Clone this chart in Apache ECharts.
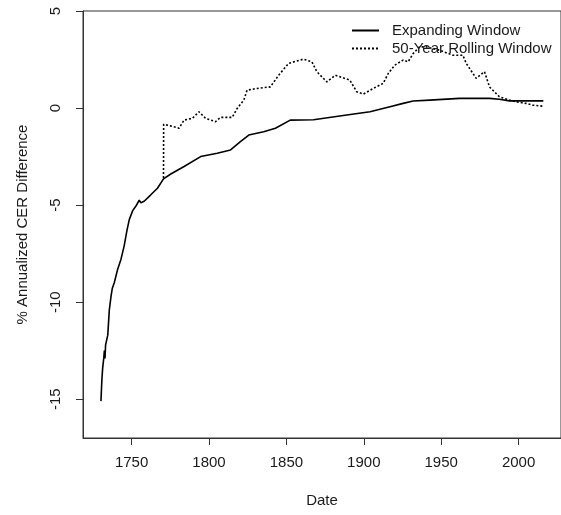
<!DOCTYPE html>
<html>
<head>
<meta charset="utf-8">
<script src="https://cdn.jsdelivr.net/npm/echarts@6/dist/echarts.min.js"></script>
<style>
  html, body { margin: 0; padding: 0; background: #fff; }
  #chart { width: 561px; height: 515px; }
</style>
</head>
<body>
<div id="chart"></div>
<script type="text/javascript">
	// values
	var expYears = [1730.2, 1730.8, 1731.3, 1732.0, 1732.4, 1732.8, 1733.2, 1734.6, 1735.6, 1736.7, 1737.5, 1738.8,
		1741.0, 1743.1, 1745.2, 1747.0, 1748.5, 1750.6, 1752.8, 1754.9, 1756.0, 1758.1, 1762.4, 1766.7,
		1770.6, 1775.3, 1783.9, 1794.6, 1805.3, 1813.9, 1820.3, 1825.7, 1835.3, 1842.9, 1852.5, 1867.5,
		1889.0, 1904.0, 1916.9, 1925.4, 1931.9, 1942.6, 1961.9, 1981.2, 1987.6, 1994.1, 2002.6, 2016.0];
	var expValues = [-15.1, -14.0, -13.4, -12.9, -12.5, -12.9, -12.2, -11.7, -10.4, -9.7, -9.3, -9.0,
		-8.3, -7.8, -7.1, -6.3, -5.75, -5.3, -5.05, -4.75, -4.88, -4.8, -4.47, -4.13,
		-3.65, -3.4, -3.01, -2.5, -2.33, -2.16, -1.73, -1.39, -1.22, -1.04, -0.62, -0.6,
		-0.36, -0.19, 0.07, 0.24, 0.36, 0.41, 0.5, 0.5, 0.45, 0.37, 0.37, 0.37];

	var rollYears = [1770.6, 1770.7, 1775.3, 1780.6, 1783.9, 1789.3, 1793.5, 1797.8, 1804.2, 1807.5, 1815.0, 1818.2,
		1822.5, 1824.6, 1831.0, 1839.6, 1845.0, 1851.4, 1861.0, 1866.5, 1869.7, 1876.1, 1881.5, 1891.0,
		1895.4, 1899.7, 1906.1, 1912.5, 1915.8, 1920.0, 1925.4, 1928.6, 1931.9, 1936.0, 1940.5, 1949.0,
		1957.6, 1964.0, 1966.2, 1972.6, 1978.0, 1981.2, 1987.6, 1994.0, 1998.4, 2004.8, 2009.0, 2015.5];
	var rollValues = [-3.6, -0.84, -0.92, -1.04, -0.62, -0.53, -0.19, -0.53, -0.7, -0.48, -0.48, -0.02,
		0.41, 0.92, 1.01, 1.09, 1.69, 2.3, 2.52, 2.38, 1.87, 1.35, 1.69, 1.44,
		0.84, 0.72, 1.01, 1.27, 1.78, 2.21, 2.47, 2.38, 2.81, 3.15, 3.15, 2.98,
		2.72, 2.72, 2.3, 1.53, 1.87, 1.09, 0.58, 0.41, 0.32, 0.24, 0.15, 0.1];

	var xTicks = [1750, 1800, 1850, 1900, 1950, 2000];
	var yTicks = [-15, -10, -5, 0, 5];

	var xMin = 1718.6, xMax = 2027.4;
	var yMin = -17, yMax = 5;

	function pairs(xs, ys){
		var out = [];
		for(var i=0; i<xs.length; i++){
			out.push([xs[i], ys[i]]);
		}
		return out;
	}

	var font = 'Liberation Sans, Arial, sans-serif';
	var ink = '#1a1a1a';

	var option = {
		animation: false,
		backgroundColor: '#fff',
		grid: {
			left: 83, top: 11, right: -2, height: 427,
			show: true, borderColor: '#333', borderWidth: 1, backgroundColor: 'transparent'
		},
		legend: {
			orient: 'vertical',
			left: 346, top: 18,
			itemWidth: 27, itemHeight: 14, itemGap: 3,
			itemStyle: { opacity: 0 },
			textStyle: { fontFamily: font, fontSize: 15, color: ink, padding: [0, 0, 0, 8] },
			data: ['Expanding Window', '50-Year Rolling Window']
		},
		xAxis: {
			type: 'value',
			min: xMin, max: xMax,
			name: 'Date', nameLocation: 'middle', nameGap: 55,
			nameTextStyle: { fontFamily: font, fontSize: 15, color: ink },
			axisLine: { show: true, onZero: false, lineStyle: { color: '#333', width: 1 } },
			axisTick: { show: true, length: 7, lineStyle: { color: '#333', width: 1 }, customValues: xTicks },
			axisLabel: { margin: 17, fontFamily: font, fontSize: 15, color: ink, customValues: xTicks,
				formatter: function(v){ return String(v); } },
			splitLine: { show: false }
		},
		yAxis: {
			type: 'value',
			position: 'left',
			min: yMin, max: yMax,
			name: '% Annualized CER Difference', nameLocation: 'middle', nameGap: 53,
			nameTextStyle: { fontFamily: font, fontSize: 15, color: ink },
			axisLine: { show: true, onZero: false, lineStyle: { color: '#333', width: 1 } },
			axisTick: { show: true, inside: false, length: 7, lineStyle: { color: '#333', width: 1 }, customValues: yTicks },
			axisLabel: { margin: 20, rotate: 90, fontFamily: font, fontSize: 15, color: ink, customValues: yTicks },
			splitLine: { show: false }
		},
		series: [
			{
				name: 'Expanding Window',
				type: 'line',
				symbol: 'none',
				data: pairs(expYears, expValues),
				lineStyle: { color: '#000', width: 1.6, type: 'solid' },
				itemStyle: { color: '#000' }
			},
			{
				name: '50-Year Rolling Window',
				type: 'line',
				symbol: 'none',
				data: pairs(rollYears, rollValues),
				lineStyle: { color: '#000', width: 1.6, type: [2, 2] },
				itemStyle: { color: '#000' }
			},
			{
				// y-axis tick marks, placed through the axis scale
				name: 'yticks',
				type: 'custom',
				silent: true,
				clip: false,
				z: 10,
				data: yTicks.map(function(v){ return [xMin, v]; }),
				renderItem: function(params, api){
					var p = api.coord([api.value(0), api.value(1)]);
					return {
						type: 'rect',
						shape: { x: p[0] - 7, y: Math.round(p[1]), width: 7, height: 1 },
						style: { fill: '#333' }
					};
				}
			}
		]
	};

	var myChart = echarts.init(document.getElementById('chart'));
	myChart.setOption(option);
</script>
</body>
</html>
